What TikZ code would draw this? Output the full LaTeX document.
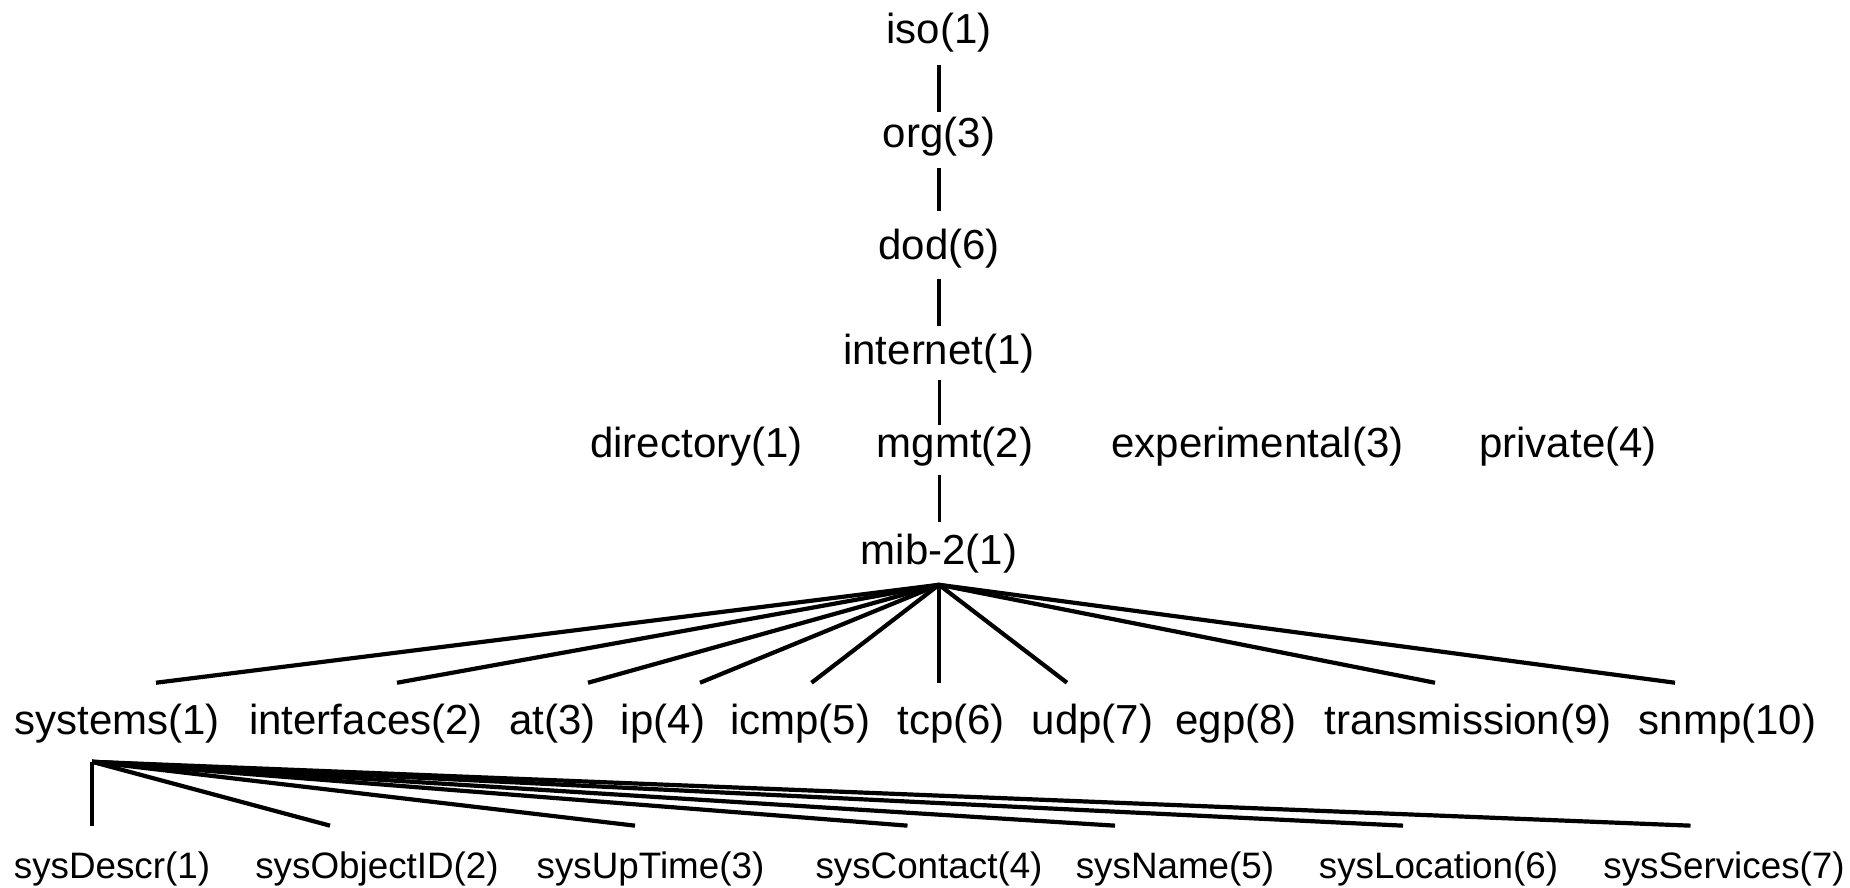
\documentclass[tikz,border=0pt]{standalone}
\usepackage{fontspec}
\setmainfont{Liberation Sans}
\begin{document}
\begin{tikzpicture}[x=1pt,y=-1pt,
  lbl/.style={inner sep=0pt,font=\fontsize{42}{48}\selectfont},
  leaf/.style={inner sep=0pt,font=\fontsize{36.8}{42}\selectfont},
  stem/.style={line width=4.8pt},
  thin stem/.style={line width=3pt},
  branch/.style={line width=4.2pt}]
\useasboundingbox (0,0) rectangle (1850,887);

% upper chain of the OID tree
\node[lbl] (iso) at (939,33) {iso(1)};
\node[lbl] (org) at (939,137) {org(3)};
\node[lbl] (dod) at (939,249) {dod(6)};
\node[lbl] (internet) at (939,354) {internet(1)};

% children of internet
\node[lbl] (directory) at (696.5,447) {directory(1)};
\node[lbl] (mgmt) at (955,447) {mgmt(2)};
\node[lbl] (experimental) at (1257.5,447) {experimental(3)};
\node[lbl] (private) at (1568,447) {private(4)};

\node[lbl] (mib) at (939,554) {mib-2(1)};

\draw[stem,shorten <=12pt,shorten >=5pt] (iso.south) -- (org.north);
\draw[stem,shorten <=11pt,shorten >=18pt] (org.south) -- (dod.north);
\draw[stem,shorten <=10pt,shorten >=8pt] (dod.south) -- (internet.north);
\draw[thin stem,shorten <=6pt,shorten >=2pt] (internet.south) -- (internet.south |- mgmt.north);
\draw[thin stem,shorten <=8pt,shorten >=12pt] (mgmt.south -| mib.north) -- (mib.north);

% mib-2 groups
\node[lbl] (systems) at (117,723.5) {systems(1)};
\node[lbl] (interfaces) at (366,723.5) {interfaces(2)};
\node[lbl] (at) at (552.5,723.5) {at(3)};
\node[lbl] (ip) at (663,723.5) {ip(4)};
\node[lbl] (icmp) at (800,723.5) {icmp(5)};
\node[lbl] (tcp) at (951,723.5) {tcp(6)};
\node[lbl] (udp) at (1092.5,723.5) {udp(7)};
\node[lbl] (egp) at (1236,723.5) {egp(8)};
\node[lbl] (transmission) at (1468,723.5) {transmission(9)};
\node[lbl] (snmp) at (1727.5,723.5) {snmp(10)};

\coordinate (mibfan) at ([yshift=-11pt]mib.south);
\draw[branch] (mibfan) -- ([xshift=39pt,yshift=21pt]systems.north);
\draw[branch] (mibfan) -- ([xshift=31pt,yshift=21pt]interfaces.north);
\draw[branch] (mibfan) -- ([xshift=35.5pt,yshift=21pt]at.north);
\draw[branch] (mibfan) -- ([xshift=37pt,yshift=21pt]ip.north);
\draw[branch] (mibfan) -- ([xshift=11.5pt,yshift=21pt]icmp.north);
\draw[branch] (mibfan) -- ([xshift=-12pt,yshift=21pt]tcp.north);
\draw[branch] (mibfan) -- ([xshift=-25.5pt,yshift=21pt]udp.north);
\draw[branch] (mibfan) -- ([xshift=-33pt,yshift=21pt]transmission.north);
\draw[branch] (mibfan) -- ([xshift=-52.5pt,yshift=21pt]snmp.north);

% system group objects
\node[leaf] (sysDescr) at (112,869) {sysDescr(1)};
\node[leaf] (sysObjectID) at (377,869) {sysObjectID(2)};
\node[leaf] (sysUpTime) at (650.5,869) {sysUpTime(3)};
\node[leaf] (sysContact) at (929,869) {sysContact(4)};
\node[leaf] (sysName) at (1175,869) {sysName(5)};
\node[leaf] (sysLocation) at (1438.5,869) {sysLocation(6)};
\node[leaf] (sysServices) at (1724,869) {sysServices(7)};

\coordinate (sysfan) at ([xshift=-25pt,yshift=-18.5pt]systems.south);
\draw[line width=3.6pt] (sysfan) -- ([xshift=-20pt,yshift=26pt]sysDescr.north);
\draw[branch] (sysfan) -- ([xshift=-47pt,yshift=26pt]sysObjectID.north);
\draw[branch] (sysfan) -- ([xshift=-15.5pt,yshift=26pt]sysUpTime.north);
\draw[branch] (sysfan) -- ([xshift=-21.5pt,yshift=26pt]sysContact.north);
\draw[branch] (sysfan) -- ([xshift=-60pt,yshift=26pt]sysName.north);
\draw[branch] (sysfan) -- ([xshift=-35.5pt,yshift=26pt]sysLocation.north);
\draw[branch] (sysfan) -- ([xshift=-33.5pt,yshift=26pt]sysServices.north);
\end{tikzpicture}
\end{document}
